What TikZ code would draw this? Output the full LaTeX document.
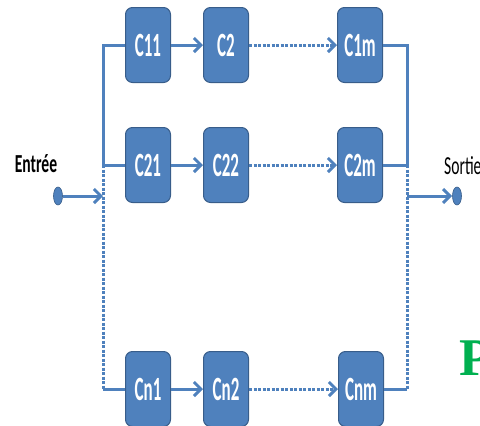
\documentclass[tikz,border=0pt]{standalone}
\usepackage{fontspec}
\newfontfamily\boxfont[FakeStretch=0.5]{Carlito}
\newfontfamily\labelfont[FakeStretch=0.6]{Carlito}
\newfontfamily\bigfont{Liberation Serif}
\usepackage{tikz}
\usetikzlibrary{arrows.meta, shapes.geometric}
\definecolor{boxblue}{RGB}{79,129,189}
\definecolor{boxedge}{RGB}{56,93,138}
\definecolor{wireblue}{RGB}{79,129,189}
\definecolor{pgreen}{RGB}{0,176,80}

\begin{document}
\begin{tikzpicture}[x=1pt, y=-1pt,
    comp/.style={rectangle, rounded corners=7pt, fill=boxblue, draw=boxedge,
      line width=1pt, minimum width=45pt, minimum height=75pt, inner sep=0pt,
      text=white, font=\boxfont\bfseries\fontsize{34}{34}\selectfont},
    wire/.style={draw=wireblue, line width=3pt},
    dotwire/.style={wire, dash pattern=on 3pt off 1.5pt},
    tip/.style={-{Straight Barb[length=7pt, width=14pt, line width=3pt]}},
    pin/.style={ellipse, fill=wireblue, draw=boxedge, line width=0.6pt,
      minimum width=9pt, minimum height=18pt, inner sep=0pt}]

  \clip (0,0) rectangle (480,426);

  % rows of components
  \node[comp] (c11) at (148,45)  {C11};
  \node[comp] (c12) at (226,45)  {C2};
  \node[comp] (c1m) at (360,45)  {C1m};

  \node[comp] (c21) at (148,165) {C21};
  \node[comp] (c22) at (226,165) {C22};
  \node[comp] (c2m) at (360,165) {C2m};

  \node[comp] (cn1) at (148,389) {Cn1};
  \node[comp] (cn2) at (226,389) {Cn2};
  \node[comp] (cnm) at (361,389) {Cnm};

  % links inside each row
  \draw[wire, tip] (c11) -- (c12);
  \draw[dotwire, tip] (c12) -- (c1m);
  \draw[wire, tip] (c21) -- (c22);
  \draw[dotwire, tip] (c22) -- (c2m);
  \draw[wire, tip] (cn1) -- (cn2);
  \draw[dotwire, tip] (cn2) -- (cnm);

  % input side
  \coordinate (l1) at (103,45);
  \coordinate (l2) at (103,165);
  \coordinate (lin) at (103,196);
  \coordinate (ln) at (103,389);
  \draw[wire] (c11.west) -- (l1) -- (l2) -- (c21.west);
  \draw[dotwire] (l2) -- (ln);
  \draw[wire] (ln) -- (cn1.west);

  \node[pin] (in) at (58,196) {};
  \draw[wire, tip] (in) -- (lin);
  \node[font=\labelfont\bfseries\fontsize{26}{26}\selectfont] (entree) at (36,164) {Entrée};

  % output side
  \coordinate (r1) at (407,45);
  \coordinate (r2) at (407,165);
  \coordinate (rout) at (407,196);
  \coordinate (rn) at (407,389);
  \draw[wire] (c1m.east) -- (r1) -- (r2) -- (c2m.east);
  \draw[dotwire] (r2) -- (rn);
  \draw[wire] (rn) -- (cnm.east);

  \node[pin] (out) at (457,196) {};
  \draw[wire, tip] (rout) -- (out);
  \node[anchor=west, inner sep=0pt, font=\labelfont\fontsize{26}{26}\selectfont] (sortie) at (444,166) {Sortie};

  % cut-off letter on the right
  \node[anchor=west, inner sep=0pt, text=pgreen, font=\bigfont\bfseries\fontsize{53}{53}\selectfont] (ptext) at (459,358) {P};

\end{tikzpicture}
\end{document}
